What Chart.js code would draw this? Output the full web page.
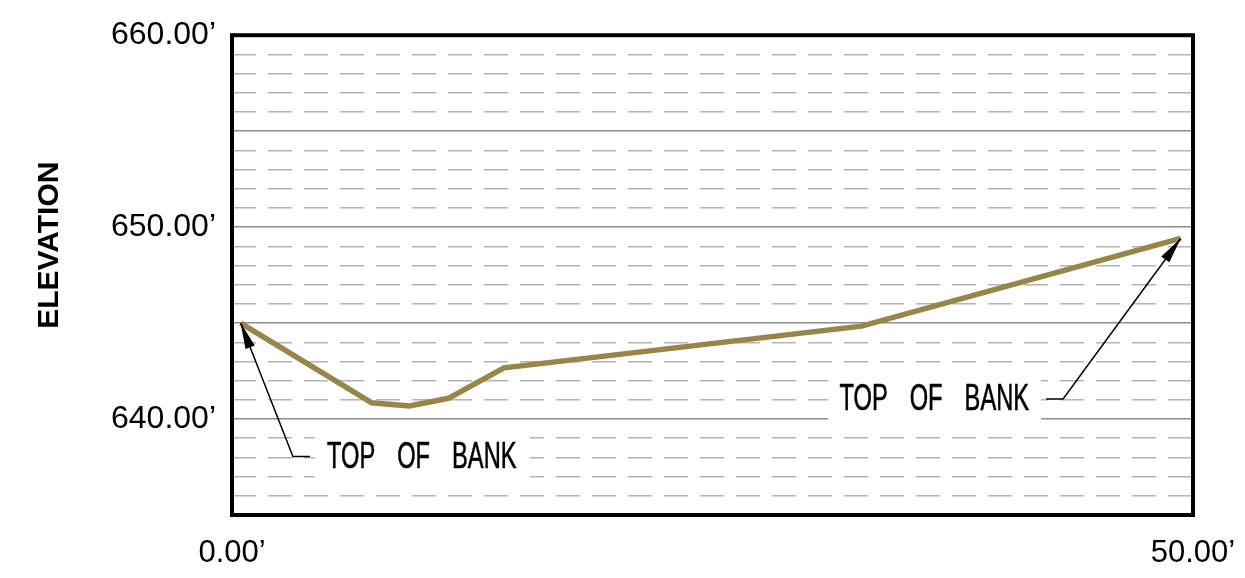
<!DOCTYPE html>
<html lang="en">
  <head>
    <meta charset="UTF-8" />
    <title>Cross Section</title>
    <script src="https://cdn.jsdelivr.net/npm/chart.js"></script>
    <style>
      html,
      body {
        margin: 0;
        background: #fff;
      }
      .chart-box {
        width: 1245px;
        height: 578px;
      }
    </style>
  </head>
  <body>
    <div class="chart-box">
      <canvas id="sectionChart"></canvas>
    </div>

    <script>
      const stations = [0.45, 7.27, 9.23, 11.26, 14.15, 32.76, 49.36];
      const elevations = [645.0, 640.85, 640.68, 641.08, 642.67, 644.84, 649.41];
      const xTicks = [0, 50];
      const yLabelled = [640, 650, 660];
      const axisTitle = "ELEVATION";
      const noteText = "TOP OF BANK";

      const fmt = (v) => v.toFixed(2) + "\u2019";

      // callouts: arrow tip on the profile, elbow of the leader, text side
      const callouts = [
        { tip: 0, elbow: [3.17, 638.05], dir: 1 },
        { tip: 6, elbow: [43.24, 641.05], dir: -1 },
      ];

      function drawWords(ctx, x, y, align) {
        const words = noteText.split(" ");
        const gap = 22;
        ctx.save();
        ctx.font = "37px 'Liberation Sans', Arial, sans-serif";
        ctx.textBaseline = "middle";
        const sx = 0.64;
        const widths = words.map((w) => ctx.measureText(w).width * sx);
        const total = widths.reduce((a, b) => a + b, 0) + gap * (words.length - 1);
        let cx = align === "left" ? x : x - total;
        ctx.fillStyle = "#000";
        ctx.strokeStyle = "#000";
        ctx.lineWidth = 0.6;
        words.forEach((w, i) => {
          ctx.save();
          ctx.translate(cx, y);
          ctx.scale(sx, 1);
          ctx.fillText(w, 0, 0);
          ctx.strokeText(w, 0, 0);
          ctx.restore();
          cx += widths[i] + gap;
        });
        ctx.restore();
        return total;
      }

      const sectionPlugin = {
        id: "sectionPlugin",
        beforeDatasetsDraw(chart) {
          const { ctx, scales } = chart;
          const xs = scales.x;
          const ys = scales.y;
          callouts.forEach((c) => {
            const ex = xs.getPixelForValue(c.elbow[0]);
            const ey = ys.getPixelForValue(c.elbow[1]);
            const lx = ex + c.dir * 17;
            const tx = lx + c.dir * 17;
            // white box behind the text
            ctx.save();
            ctx.fillStyle = "#fff";
            if (c.dir > 0) ctx.fillRect(lx + 5, ey - 28, 215, 58);
            else ctx.fillRect(lx - 218, ey - 27, 213, 56);
            ctx.restore();
            drawWords(ctx, tx, ey + 1, c.dir > 0 ? "left" : "right");
          });
        },
        afterDatasetsDraw(chart) {
          const { ctx, scales } = chart;
          const xs = scales.x;
          const ys = scales.y;
          callouts.forEach((c) => {
            const px = xs.getPixelForValue(stations[c.tip]);
            const py = ys.getPixelForValue(elevations[c.tip]);
            const ex = xs.getPixelForValue(c.elbow[0]);
            const ey = ys.getPixelForValue(c.elbow[1]);
            const lx = ex + c.dir * 17;
            ctx.save();
            ctx.strokeStyle = "#000";
            ctx.lineWidth = 1.5;
            ctx.beginPath();
            ctx.moveTo(lx, ey);
            ctx.lineTo(ex, ey);
            ctx.lineTo(px, py);
            ctx.stroke();
            // arrowhead
            const ang = Math.atan2(py - ey, px - ex);
            const len = 26;
            const half = 5;
            const bx = px - Math.cos(ang) * len;
            const by = py - Math.sin(ang) * len;
            ctx.fillStyle = "#000";
            ctx.beginPath();
            ctx.moveTo(px, py);
            ctx.lineTo(bx + Math.sin(ang) * half, by - Math.cos(ang) * half);
            ctx.lineTo(bx - Math.sin(ang) * half, by + Math.cos(ang) * half);
            ctx.closePath();
            ctx.fill();
            ctx.restore();
          });
        },
        afterDraw(chart) {
          const { ctx, chartArea } = chart;
          ctx.save();
          ctx.strokeStyle = "#000";
          ctx.lineWidth = 4;
          ctx.strokeRect(
            chartArea.left,
            chartArea.top,
            chartArea.right - chartArea.left,
            chartArea.bottom - chartArea.top
          );
          // vertical axis title
          ctx.translate(chartArea.left - 182, chartArea.top + 210);
          ctx.rotate(-Math.PI / 2);
          ctx.font = "bold 30px 'Liberation Sans', Arial, sans-serif";
          ctx.textAlign = "center";
          ctx.textBaseline = "middle";
          ctx.fillStyle = "#000";
          ctx.fillText(axisTitle, 0, 0);
          ctx.restore();
        },
      };

      new Chart(document.getElementById("sectionChart"), {
        type: "line",
        data: {
          datasets: [
            {
              data: stations.map((s, i) => ({ x: s, y: elevations[i] })),
              borderColor: "#988649",
              borderWidth: 5.5,
              pointRadius: 0,
              tension: 0,
              borderJoinStyle: "miter",
            },
          ],
        },
        options: {
          responsive: true,
          maintainAspectRatio: false,
          animation: false,
          layout: { padding: { top: 35, right: 52, left: 0, bottom: 0 } },
          plugins: {
            legend: { display: false },
            tooltip: { enabled: false },
          },
          scales: {
            x: {
              type: "linear",
              min: 0,
              max: 50,
              afterFit: (s) => {
                s.height = 63;
                s.paddingLeft = 0;
                s.paddingRight = 0;
              },
              afterBuildTicks: (s) => {
                s.ticks = xTicks.map((v) => ({ value: v }));
              },
              grid: { display: false },
              border: { display: false },
              ticks: {
                padding: 12,
                maxRotation: 0,
                color: "#000",
                font: { family: "'Liberation Sans', Arial, sans-serif", size: 31 },
                callback: (v) => fmt(v),
              },
            },
            y: {
              type: "linear",
              min: 635,
              max: 660,
              afterFit: (s) => {
                s.width = 232;
              },
              grid: {
                drawTicks: false,
                lineWidth: 1.5,
                color: (ctx) =>
                  ctx.tick && ctx.tick.value % 5 === 0 ? "#8c8c8c" : "#b4b4b4",
              },
              border: {
                display: false,
                dash: (ctx) =>
                  ctx.tick && ctx.tick.value % 5 === 0 ? [] : [24, 12],
              },
              ticks: {
                stepSize: 1,
                autoSkip: false,
                padding: 16,
                color: "#000",
                font: { family: "'Liberation Sans', Arial, sans-serif", size: 32 },
                callback: (v) => (yLabelled.includes(v) ? fmt(v) : ""),
              },
            },
          },
        },
        plugins: [sectionPlugin],
      });
    </script>
  </body>
</html>
